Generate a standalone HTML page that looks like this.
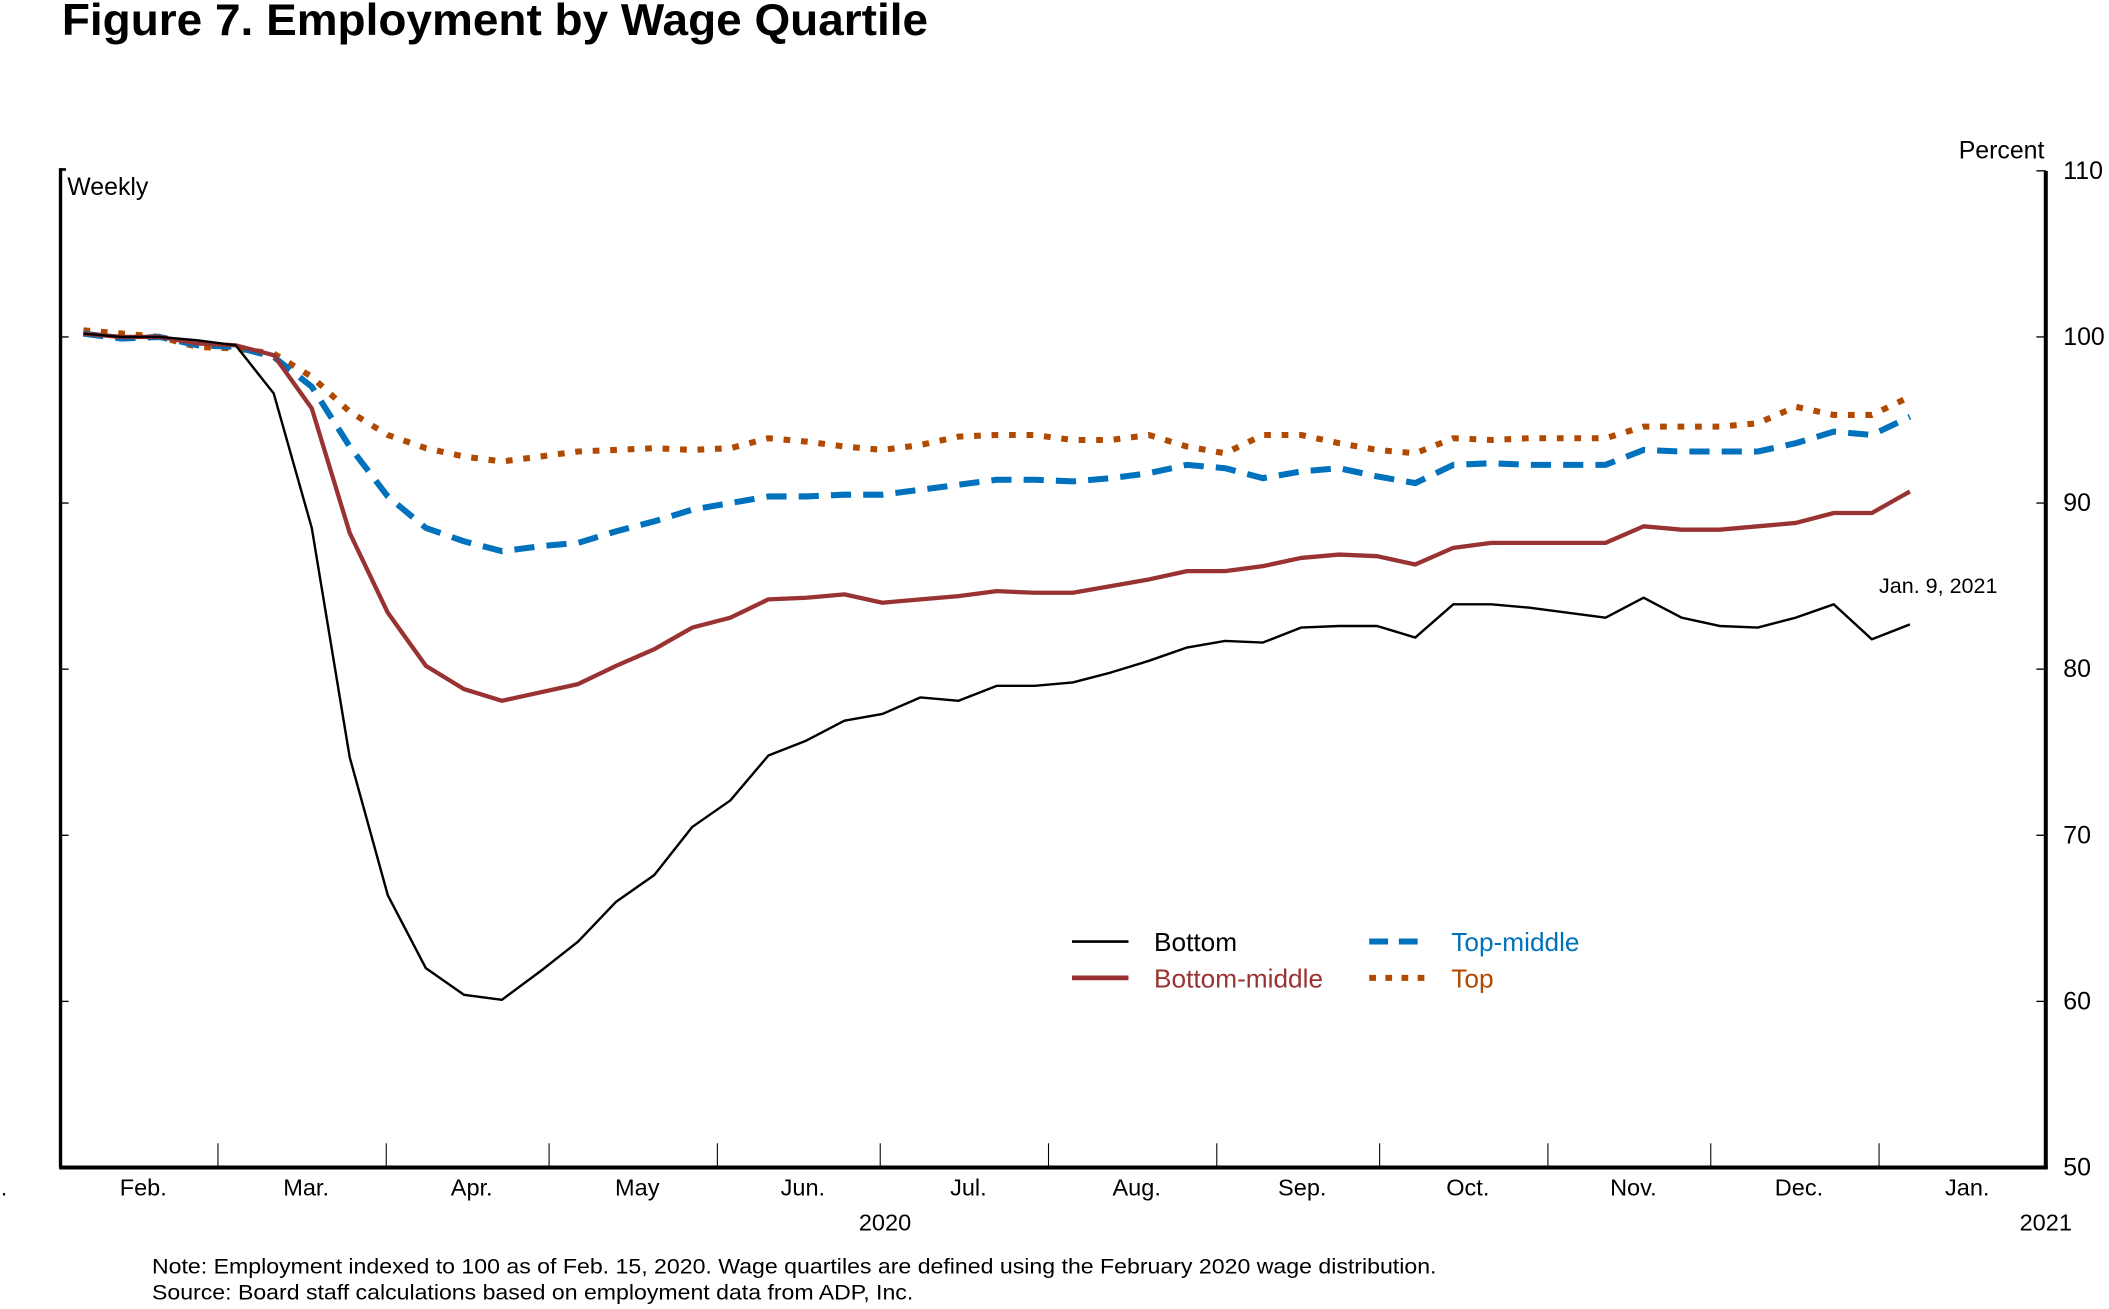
<!DOCTYPE html>
<html><head><meta charset="utf-8"><style>
html,body{margin:0;padding:0;background:#fff}
svg{display:block}
text{font-family:"Liberation Sans",sans-serif}
</style></head><body>
<svg id="chart" width="2109" height="1309" viewBox="0 0 1568 973.2" preserveAspectRatio="none" xmlns="http://www.w3.org/2000/svg">
<text x="46" y="26" font-size="33" font-weight="bold" textLength="644" lengthAdjust="spacingAndGlyphs">Figure 7. Employment by Wage Quartile</text>
<g id="axes"></g>
<g id="series"></g>
<g id="legend">
 <line x1="797" y1="700" x2="839" y2="700" stroke="#000" stroke-width="2"/>
 <text x="858" y="707" font-size="19.5">Bottom</text>
 <line x1="797" y1="727" x2="839" y2="727" stroke="#993333" stroke-width="3.5"/>
 <text x="858" y="734" font-size="19.5" fill="#993333">Bottom-middle</text>
 <line x1="1018" y1="700" x2="1062" y2="700" stroke="#0072bd" stroke-width="4.5" stroke-dasharray="14,8"/>
 <text x="1079" y="707" font-size="19.5" fill="#0072bd">Top-middle</text>
 <line x1="1018" y1="727" x2="1062" y2="727" stroke="#b04a00" stroke-width="4.5" stroke-dasharray="5,7"/>
 <text x="1079" y="734" font-size="19.5" fill="#b04a00">Top</text>
</g>
<text x="1520" y="118" font-size="18.5" text-anchor="end">Percent</text>
<text x="50" y="145" font-size="18.5">Weekly</text>
<text x="1397" y="441" font-size="16">Jan. 9, 2021</text>
<text x="658" y="915" font-size="17.5" text-anchor="middle">2020</text>
<text x="1521" y="915" font-size="17.5" text-anchor="middle">2021</text>
<text x="113" y="947" font-size="16" textLength="955" lengthAdjust="spacingAndGlyphs">Note: Employment indexed to 100 as of Feb. 15, 2020.  Wage quartiles are defined using the February 2020 wage distribution.</text>
<text x="113" y="966" font-size="16" textLength="566" lengthAdjust="spacingAndGlyphs">Source: Board staff calculations based on employment data from ADP, Inc.</text>
</svg>
<script>
const bottom=[100.2,100,100,99.8,99.5,96.6,88.5,74.7,66.4,62,60.4,60.1,61.8,63.6,66,67.6,70.5,72.1,74.8,75.7,76.9,77.3,78.3,78.1,79,79,79.2,79.8,80.5,81.3,81.7,81.6,82.5,82.6,82.6,81.9,83.9,83.9,83.7,83.4,83.1,84.3,83.1,82.6,82.5,83.1,83.9,81.8,82.7];
const bottomMiddle=[100.2,100,100,99.6,99.5,98.9,95.7,88.2,83.4,80.2,78.8,78.1,78.6,79.1,80.2,81.2,82.5,83.1,84.2,84.3,84.5,84,84.2,84.4,84.7,84.6,84.6,85,85.4,85.9,85.9,86.2,86.7,86.9,86.8,86.3,87.3,87.6,87.6,87.6,87.6,88.6,88.4,88.4,88.6,88.8,89.4,89.4,90.7];
const topMiddle=[100.2,99.9,100,99.5,99.4,98.8,97,93.4,90.4,88.5,87.7,87.1,87.4,87.6,88.3,88.9,89.6,90,90.4,90.4,90.5,90.5,90.8,91.1,91.4,91.4,91.3,91.5,91.8,92.3,92.1,91.5,91.9,92.1,91.6,91.2,92.3,92.4,92.3,92.3,92.3,93.2,93.1,93.1,93.1,93.6,94.3,94.1,95.2];
const topQ=[100.4,100.2,100,99.4,99.3,99,97.6,95.5,94.1,93.3,92.8,92.5,92.8,93.1,93.2,93.3,93.2,93.3,93.9,93.7,93.4,93.2,93.5,94,94.1,94.1,93.8,93.8,94.1,93.4,93,94.1,94.1,93.6,93.2,93,93.9,93.8,93.9,93.9,93.9,94.6,94.6,94.6,94.8,95.8,95.3,95.3,96.4];
const monthLabels=["Feb.","Mar.","Apr.","May","Jun.","Jul.","Aug.","Sep.","Oct.","Nov.","Dec.","Jan."];
const monthStartDays=[0,29,60,90,121,151,182,213,243,274,304,335,366];
const yTicks=[50,60,70,80,90,100,110];

const NS="http://www.w3.org/2000/svg";
const L=45,R=1521,T=127,B=868;
const yS=v=>B-(v-50)/60*(B-T);
const dS=d=>L+d*(1397-162)/306;
const xS=i=>62+i*(1420-62)/48;
function mk(tag,attrs,parent,txt){const e=document.createElementNS(NS,tag);for(const k in attrs)e.setAttribute(k,attrs[k]);if(txt!==undefined)e.textContent=txt;parent.appendChild(e);return e;}
const ax=document.getElementById('axes');
let e=mk('line',{x1:L,y1:T-2,x2:L,y2:B,stroke:'#000','stroke-width':2.5},ax);


mk('line',{x1:L,y1:T-1,x2:L+4,y2:T-1,stroke:'#000','stroke-width':2},ax);
e=mk('line',{x1:R,y1:T,x2:R,y2:B,stroke:'#000','stroke-width':3},ax);


e=mk('line',{x1:L-1,y1:B,x2:R+1.5,y2:B,stroke:'#000','stroke-width':3},ax);


yTicks.forEach(v=>{
 mk('line',{x1:R-7,y1:yS(v),x2:R,y2:yS(v),stroke:'#000','stroke-width':1},ax);
 if(v<110&&v>50) mk('line',{x1:L,y1:yS(v),x2:L+6,y2:yS(v),stroke:'#000','stroke-width':1},ax);
 const t=mk('text',{x:1534,y:yS(v)+6,'font-size':18.5},ax,String(v));
 
 
});
for(let m=1;m<monthStartDays.length-1;m++){
 mk('line',{x1:dS(monthStartDays[m]),y1:B-18,x2:dS(monthStartDays[m]),y2:B,stroke:'#000','stroke-width':0.8},ax);
}
monthLabels.forEach((lab,m)=>{
 const cx=(dS(monthStartDays[m])+dS(monthStartDays[m+1]))/2+3;
 const t=mk('text',{x:cx,y:889,'font-size':17.5,'text-anchor':'middle'},ax,lab);
 
 
});
mk('text',{x:3,y:889,'font-size':17,'text-anchor':'middle'},ax,'.');
const sg=document.getElementById('series');
function line(arr,color,w,dash,name){
 const p=mk('polyline',{points:arr.map((v,i)=>xS(i).toFixed(1)+','+yS(v).toFixed(1)).join(' '),fill:'none',stroke:color,'stroke-width':w,'stroke-linejoin':'round'},sg);
 if(dash)p.setAttribute('stroke-dasharray',dash);
 
 
}
line(topQ,'#b04a00',4.5,'5,8','series-top');
line(topMiddle,'#0072bd',4.5,'15,9','series-top-middle');
line(bottomMiddle,'#993333',3.2,null,'series-bottom-middle');
line(bottom,'#000',1.8,null,'series-bottom');
</script>
</body></html>
